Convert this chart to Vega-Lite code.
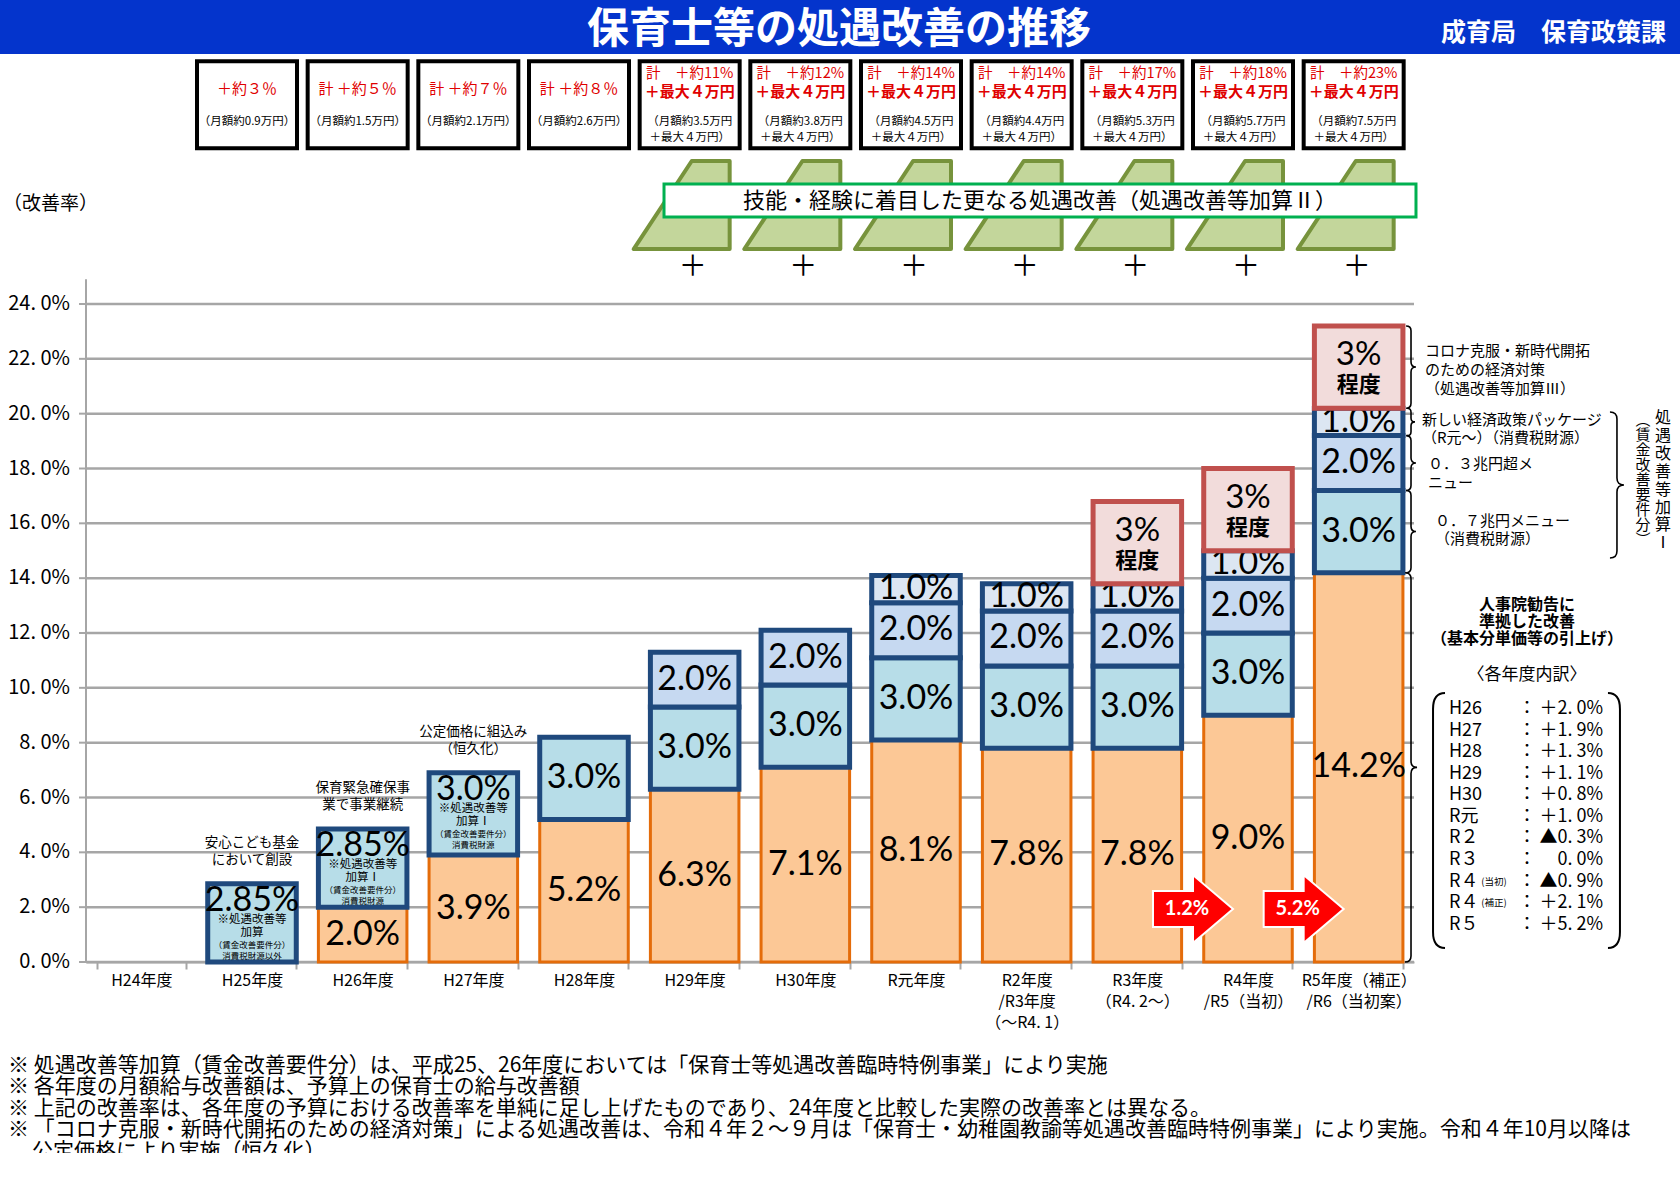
{
"$schema": "https://vega.github.io/schema/vega-lite/v6.json",
"width": 1680,
"height": 1180,
"autosize": {"type": "none"},
"padding": 0,
"background": "#ffffff",
"config": {"view": {"stroke": null}, "font": "Noto Sans CJK JP"},
"datasets": {
 "grid": [{"g":0},{"g":2},{"g":4},{"g":6},{"g":8},{"g":10},{"g":12},{"g":14},{"g":16},{"g":18},{"g":20},{"g":22},{"g":24}],
 "bars": [
  {"year":"H25年度","tier":2,"value":2.85,"label":"2.85%","above":"安心こども基金\nにおいて創設","in1":"※処遇改善等\n加算","in2":"（賃金改善要件分）\n消費税財源以外"},
  {"year":"H26年度","tier":1,"value":2.0,"label":"2.0%"},
  {"year":"H26年度","tier":2,"value":2.85,"label":"2.85%","above":"保育緊急確保事\n業で事業継続","in1":"※処遇改善等\n加算Ⅰ","in2":"（賃金改善要件分）\n消費税財源"},
  {"year":"H27年度","tier":1,"value":3.9,"label":"3.9%"},
  {"year":"H27年度","tier":2,"value":3.0,"label":"3.0%","above":"公定価格に組込み\n（恒久化）","in1":"※処遇改善等\n加算Ⅰ","in2":"（賃金改善要件分）\n消費税財源"},
  {"year":"H28年度","tier":1,"value":5.2,"label":"5.2%"},
  {"year":"H28年度","tier":2,"value":3.0,"label":"3.0%"},
  {"year":"H29年度","tier":1,"value":6.3,"label":"6.3%"},
  {"year":"H29年度","tier":2,"value":3.0,"label":"3.0%"},
  {"year":"H29年度","tier":3,"value":2.0,"label":"2.0%"},
  {"year":"H30年度","tier":1,"value":7.1,"label":"7.1%"},
  {"year":"H30年度","tier":2,"value":3.0,"label":"3.0%"},
  {"year":"H30年度","tier":3,"value":2.0,"label":"2.0%"},
  {"year":"R元年度","tier":1,"value":8.1,"label":"8.1%"},
  {"year":"R元年度","tier":2,"value":3.0,"label":"3.0%"},
  {"year":"R元年度","tier":3,"value":2.0,"label":"2.0%"},
  {"year":"R元年度","tier":4,"value":1.0,"label":"1.0%"},
  {"year":"R2年度\n/R3年度\n（～R4. 1）","tier":1,"value":7.8,"label":"7.8%"},
  {"year":"R2年度\n/R3年度\n（～R4. 1）","tier":2,"value":3.0,"label":"3.0%"},
  {"year":"R2年度\n/R3年度\n（～R4. 1）","tier":3,"value":2.0,"label":"2.0%"},
  {"year":"R2年度\n/R3年度\n（～R4. 1）","tier":4,"value":1.0,"label":"1.0%"},
  {"year":"R3年度\n（R4. 2～）","tier":1,"value":7.8,"label":"7.8%"},
  {"year":"R3年度\n（R4. 2～）","tier":2,"value":3.0,"label":"3.0%"},
  {"year":"R3年度\n（R4. 2～）","tier":3,"value":2.0,"label":"2.0%"},
  {"year":"R3年度\n（R4. 2～）","tier":4,"value":1.0,"label":"1.0%"},
  {"year":"R3年度\n（R4. 2～）","tier":5,"value":3.0,"label":"3%"},
  {"year":"R4年度\n/R5（当初）","tier":1,"value":9.0,"label":"9.0%"},
  {"year":"R4年度\n/R5（当初）","tier":2,"value":3.0,"label":"3.0%"},
  {"year":"R4年度\n/R5（当初）","tier":3,"value":2.0,"label":"2.0%"},
  {"year":"R4年度\n/R5（当初）","tier":4,"value":1.0,"label":"1.0%"},
  {"year":"R4年度\n/R5（当初）","tier":5,"value":3.0,"label":"3%"},
  {"year":"R5年度（補正）\n/R6（当初案）","tier":1,"value":14.2,"label":"14.2%"},
  {"year":"R5年度（補正）\n/R6（当初案）","tier":2,"value":3.0,"label":"3.0%"},
  {"year":"R5年度（補正）\n/R6（当初案）","tier":3,"value":2.0,"label":"2.0%"},
  {"year":"R5年度（補正）\n/R6（当初案）","tier":4,"value":1.0,"label":"1.0%"},
  {"year":"R5年度（補正）\n/R6（当初案）","tier":5,"value":3.0,"label":"3%"}
 ],
 "boxes": [
  {"year":"H25年度","rate":"＋約３％","monthly":"（月額約0.9万円）"},
  {"year":"H26年度","rate":"計 ＋約５％","monthly":"（月額約1.5万円）"},
  {"year":"H27年度","rate":"計 ＋約７％","monthly":"（月額約2.1万円）"},
  {"year":"H28年度","rate":"計 ＋約８％","monthly":"（月額約2.6万円）"},
  {"year":"H29年度","rate":"計　＋約11%","rate2":"＋最大４万円","monthly":"（月額約3.5万円","monthly2":"＋最大４万円）"},
  {"year":"H30年度","rate":"計　＋約12%","rate2":"＋最大４万円","monthly":"（月額約3.8万円","monthly2":"＋最大４万円）"},
  {"year":"R元年度","rate":"計　＋約14%","rate2":"＋最大４万円","monthly":"（月額約4.5万円","monthly2":"＋最大４万円）"},
  {"year":"R2年度\n/R3年度\n（～R4. 1）","rate":"計　＋約14%","rate2":"＋最大４万円","monthly":"（月額約4.4万円","monthly2":"＋最大４万円）"},
  {"year":"R3年度\n（R4. 2～）","rate":"計　＋約17%","rate2":"＋最大４万円","monthly":"（月額約5.3万円","monthly2":"＋最大４万円）"},
  {"year":"R4年度\n/R5（当初）","rate":"計　＋約18%","rate2":"＋最大４万円","monthly":"（月額約5.7万円","monthly2":"＋最大４万円）"},
  {"year":"R5年度（補正）\n/R6（当初案）","rate":"計　＋約23%","rate2":"＋最大４万円","monthly":"（月額約7.5万円","monthly2":"＋最大４万円）"}
 ],
 "kasan2": [
  {"year":"H29年度"},{"year":"H30年度"},{"year":"R元年度"},{"year":"R2年度\n/R3年度\n（～R4. 1）"},{"year":"R3年度\n（R4. 2～）"},{"year":"R4年度\n/R5（当初）"},{"year":"R5年度（補正）\n/R6（当初案）"}
 ],
 "jump": [
  {"year":"R4年度\n/R5（当初）","delta":"1.2%"},
  {"year":"R5年度（補正）\n/R6（当初案）","delta":"5.2%"}
 ]
},
"resolve": {"scale": {"x": "independent"}},
"layer": [
 {
  "data": {"values": [{}]},
  "layer": [
   {
    "data": {"name": "grid"},
    "transform": [{"calculate": "replace(format(datum.g, '.1f'), '.', '. ') + '%'", "as": "lab"}],
    "layer": [
     {"mark": {"type": "rule", "color": "#a6a6a6", "strokeWidth": 2.5},
      "encoding": {
       "x": {"datum": 0, "type": "quantitative", "scale": {"domain": [0, 12], "range": [86, 1414], "nice": false, "zero": false}, "axis": null},
       "x2": {"datum": 12},
       "y": {"field": "g", "type": "quantitative", "scale": {"domain": [0, 24], "range": [962, 304], "nice": false, "zero": false}, "axis": null}}},
     {"mark": {"type": "rule", "color": "#a6a6a6", "strokeWidth": 2},
      "encoding": {"x": {"datum": -0.063, "axis": null}, "x2": {"datum": 0}, "y": {"field": "g", "type": "quantitative", "axis": null}}},
     {"mark": {"type": "text", "align": "right", "dx": -16, "fontSize": 20, "color": "#000000"},
      "encoding": {"x": {"datum": 0, "axis": null}, "y": {"field": "g", "type": "quantitative", "axis": null}, "text": {"field": "lab"}}}
    ]
   },
   {"mark": {"type": "rule", "color": "#a6a6a6", "strokeWidth": 2}, "encoding": {"x": {"datum": 0, "axis": null}, "y": {"datum": 0, "axis": null}, "y2": {"datum": 24.9}}},
   {"mark": {"type": "rect", "fill": "#0434cc"}, "encoding": {"x": {"datum": -0.8, "axis": null}, "x2": {"datum": 14.42}, "y": {"datum": 35.1, "axis": null}, "y2": {"datum": 33.12}}},
   {"mark": {"type": "text", "color": "#ffffff", "fontSize": 42, "fontWeight": "bold"}, "encoding": {"x": {"datum": 6.804, "axis": null}, "y": {"datum": 33.99, "axis": null}, "text": {"value": "保育士等の処遇改善の推移"}}},
   {"mark": {"type": "text", "color": "#ffffff", "fontSize": 25, "fontWeight": "bold", "align": "right"}, "encoding": {"x": {"datum": 14.277, "axis": null}, "y": {"datum": 33.87, "axis": null}, "text": {"value": "成育局　保育政策課"}}},
   {"mark": {"type": "text", "fontSize": 19, "align": "left"}, "encoding": {"x": {"datum": -0.75, "axis": null}, "y": {"datum": 27.65, "axis": null}, "text": {"value": "（改善率）"}}}
  ]
 },
 {
  "encoding": {"x": {"field": "year", "type": "nominal", "sort": null,
    "scale": {"domain": ["H24年度","H25年度","H26年度","H27年度","H28年度","H29年度","H30年度","R元年度","R2年度\n/R3年度\n（～R4. 1）","R3年度\n（R4. 2～）","R4年度\n/R5（当初）","R5年度（補正）\n/R6（当初案）"], "range": [86, 1414], "paddingInner": 0.2, "paddingOuter": 0.1},
    "axis": {"orient": "bottom", "offset": -218, "tickBand": "extent", "domainColor": "#a6a6a6", "domainWidth": 2, "tickColor": "#a6a6a6", "tickWidth": 2, "tickSize": 7, "labelExpr": "datum.value ? split(datum.value, '\\n') : ''", "labelFontSize": 16, "labelLineHeight": 21, "labelPadding": 3, "labelAngle": 0, "labelOverlap": false, "labelColor": "#000000", "title": null}}},
  "layer": [
   {
    "data": {"name": "bars"},
    "transform": [
     {"stack": "value", "groupby": ["year"], "sort": [{"field": "tier", "order": "ascending"}], "as": ["y0", "y1"]},
     {"calculate": "(datum.y0 + datum.y1) / 2", "as": "mid"}
    ],
    "layer": [
     {"transform": [{"filter": "datum.tier < 5"}], "mark": {"type": "bar", "strokeJoin": "miter"},
      "encoding": {"y": {"field": "y0", "type": "quantitative", "axis": null}, "y2": {"field": "y1"},
       "fill": {"field": "tier", "type": "ordinal", "scale": {"domain": [1,2,3,4,5], "range": ["#fcc896","#b7dde8","#c6d9f1","#dce6f2","#f2dcdb"]}, "legend": null},
       "stroke": {"field": "tier", "type": "ordinal", "scale": {"domain": [1,2,3,4,5], "range": ["#e46c0a","#1f497d","#1f497d","#1f497d","#c0504d"]}, "legend": null},
       "strokeWidth": {"condition": {"test": "datum.tier == 1", "value": 3}, "value": 5}}},
     {"transform": [{"filter": "datum.tier < 5 && !isValid(datum.in1)"}], "mark": {"type": "text", "font": "Lato", "fontSize": 34, "color": "#000000"},
      "encoding": {"y": {"field": "mid", "type": "quantitative", "axis": null}, "text": {"field": "label"}}},
     {"transform": [{"filter": "isValid(datum.in1)"}], "mark": {"type": "text", "font": "Lato", "fontSize": 34, "dy": 17, "color": "#000000"},
      "encoding": {"y": {"field": "y1", "type": "quantitative", "axis": null}, "text": {"field": "label"}}},
     {"transform": [{"filter": "isValid(datum.in1)"}], "mark": {"type": "text", "fontSize": 11.5, "lineBreak": "\n", "lineHeight": 13, "dy": 36, "color": "#000000"},
      "encoding": {"y": {"field": "y1", "type": "quantitative", "axis": null}, "text": {"field": "in1"}}},
     {"transform": [{"filter": "isValid(datum.in2)"}], "mark": {"type": "text", "fontSize": 8.5, "lineBreak": "\n", "lineHeight": 11, "dy": 61, "color": "#000000"},
      "encoding": {"y": {"field": "y1", "type": "quantitative", "axis": null}, "text": {"field": "in2"}}},
     {"transform": [{"filter": "isValid(datum.above)"}], "mark": {"type": "text", "fontSize": 13.5, "lineBreak": "\n", "lineHeight": 17, "dy": -41, "color": "#000000"},
      "encoding": {"y": {"field": "y1", "type": "quantitative", "axis": null}, "text": {"field": "above"}}},
     {"transform": [{"filter": "datum.tier == 5"}], "mark": {"type": "bar", "strokeJoin": "miter", "strokeWidth": 5},
      "encoding": {"y": {"field": "y0", "type": "quantitative", "axis": null}, "y2": {"field": "y1"},
       "fill": {"field": "tier", "type": "ordinal", "legend": null},
       "stroke": {"field": "tier", "type": "ordinal", "legend": null}}},
     {"transform": [{"filter": "datum.tier == 5"}], "mark": {"type": "text", "font": "Lato", "fontSize": 33, "dy": -12, "color": "#000000"},
      "encoding": {"y": {"field": "mid", "type": "quantitative", "axis": null}, "text": {"field": "label"}}},
     {"transform": [{"filter": "datum.tier == 5"}], "mark": {"type": "text", "fontSize": 22, "fontWeight": "bold", "dy": 18, "color": "#000000"},
      "encoding": {"y": {"field": "mid", "type": "quantitative", "axis": null}, "text": {"value": "程度"}}}
    ]
   },
   {
    "data": {"name": "boxes"},
    "layer": [
     {"mark": {"type": "point", "shape": "M -1 -0.87 L 1 -0.87 L 1 0.87 L -1 0.87 Z", "size": 10000, "filled": true, "fill": "#ffffff", "stroke": "#000000", "strokeWidth": 4, "opacity": 1, "xOffset": -5}, "encoding": {"y": {"datum": 31.27, "axis": null}}},
     {"transform": [{"filter": "!isValid(datum.rate2)"}], "mark": {"type": "text", "color": "#e00000", "fontSize": 15, "xOffset": -5}, "encoding": {"y": {"datum": 31.84, "axis": null}, "text": {"field": "rate"}}},
     {"transform": [{"filter": "isValid(datum.rate2)"}], "mark": {"type": "text", "color": "#e00000", "fontSize": 14.5, "xOffset": -5}, "encoding": {"y": {"datum": 32.39, "axis": null}, "text": {"field": "rate"}}},
     {"transform": [{"filter": "isValid(datum.rate2)"}], "mark": {"type": "text", "color": "#e00000", "fontSize": 15, "fontWeight": "bold", "xOffset": -5}, "encoding": {"y": {"datum": 31.73, "axis": null}, "text": {"field": "rate2"}}},
     {"mark": {"type": "text", "color": "#000000", "fontSize": 11.5, "xOffset": -5}, "encoding": {"y": {"datum": 30.65, "axis": null}, "text": {"field": "monthly"}}},
     {"transform": [{"filter": "isValid(datum.monthly2)"}], "mark": {"type": "text", "color": "#000000", "fontSize": 11.5, "xOffset": -5}, "encoding": {"y": {"datum": 30.05, "axis": null}, "text": {"field": "monthly2"}}}
    ]
   },
   {
    "data": {"name": "kasan2"},
    "layer": [
     {"mark": {"type": "point", "shape": "M -1 0.917 L 1 0.917 L 1 -0.917 L 0.21 -0.917 Z", "size": 9216, "filled": true, "fill": "#c3d69b", "stroke": "#77933c", "strokeWidth": 4, "strokeJoin": "round", "opacity": 1, "xOffset": -13}, "encoding": {"y": {"datum": 27.61, "axis": null}}},
     {"mark": {"type": "text", "fontSize": 28, "xOffset": -2, "color": "#000000"}, "encoding": {"y": {"datum": 25.31, "axis": null}, "text": {"value": "＋"}}}
    ]
   },
   {
    "data": {"name": "jump"},
    "layer": [
     {"mark": {"type": "point", "shape": "M -1 -0.45 L 0 -0.45 L 0 -0.85 L 1 0 L 0 0.85 L 0 0.45 L -1 0.45 Z", "size": 6400, "filled": true, "fill": "#ff0000", "stroke": "#ffffff", "strokeWidth": 2, "opacity": 1, "xOffset": -55}, "encoding": {"y": {"datum": 1.93, "axis": null}}},
     {"mark": {"type": "text", "font": "Lato", "fontSize": 20, "fontWeight": "bold", "color": "#ffffff", "xOffset": -61}, "encoding": {"y": {"datum": 1.93, "axis": null}, "text": {"field": "delta"}}}
    ]
   }
  ]
 },
 {
  "data": {"values": [{}]},
  "layer": [
   {"mark": {"type": "rect", "fill": "#ffffff", "stroke": "#00b050", "strokeWidth": 3}, "encoding": {"x": {"datum": 5.223, "type": "quantitative", "scale": {"domain": [0, 12], "range": [86, 1414], "nice": false, "zero": false}, "axis": null}, "x2": {"datum": 12.018}, "y": {"datum": 27.173, "axis": null}, "y2": {"datum": 28.377}}},
   {"mark": {"type": "text", "fontSize": 22, "color": "#000000"}, "encoding": {"x": {"datum": 8.62, "axis": null}, "y": {"datum": 27.757, "axis": null}, "text": {"value": "技能・経験に着目した更なる処遇改善（処遇改善等加算Ⅱ）"}}},
   {"mark": {"type": "point", "shape": "M -0.12 -1 Q 0 -1 0 -0.88 L 0 -0.12 Q 0 0 0.12 0 Q 0 0 0 0.12 L 0 0.88 Q 0 1 -0.12 1", "size": 6765, "filled": false, "stroke": "#000000", "strokeWidth": 1.6, "opacity": 1}, "encoding": {"x": {"datum": 11.973, "axis": null}, "y": {"datum": 21.7, "axis": null}}},
   {"mark": {"type": "point", "shape": "M -0.29 -1 Q 0 -1 0 -0.71 L 0 -0.29 Q 0 0 0.29 0 Q 0 0 0 0.29 L 0 0.71 Q 0 1 -0.29 1", "size": 752, "filled": false, "stroke": "#000000", "strokeWidth": 1.6, "opacity": 1}, "encoding": {"x": {"datum": 11.973, "axis": null}, "y": {"datum": 19.7, "axis": null}}},
   {"mark": {"type": "point", "shape": "M -0.18 -1 Q 0 -1 0 -0.82 L 0 -0.18 Q 0 0 0.18 0 Q 0 0 0 0.18 L 0 0.82 Q 0 1 -0.18 1", "size": 3007, "filled": false, "stroke": "#000000", "strokeWidth": 1.6, "opacity": 1}, "encoding": {"x": {"datum": 11.973, "axis": null}, "y": {"datum": 18.2, "axis": null}}},
   {"mark": {"type": "point", "shape": "M -0.12 -1 Q 0 -1 0 -0.88 L 0 -0.12 Q 0 0 0.12 0 Q 0 0 0 0.12 L 0 0.88 Q 0 1 -0.12 1", "size": 6765, "filled": false, "stroke": "#000000", "strokeWidth": 1.6, "opacity": 1}, "encoding": {"x": {"datum": 11.973, "axis": null}, "y": {"datum": 15.7, "axis": null}}},
   {"mark": {"type": "point", "shape": "M -0.031 -1 Q 0 -1 0 -0.969 L 0 -0.031 Q 0 0 0.031 0 Q 0 0 0 0.031 L 0 0.969 Q 0 1 -0.031 1", "size": 151577, "filled": false, "stroke": "#000000", "strokeWidth": 1.6, "opacity": 1}, "encoding": {"x": {"datum": 11.973, "axis": null}, "y": {"datum": 7.1, "axis": null}}},
   {"mark": {"type": "point", "shape": "M -0.096 -1 Q 0 -1 0 -0.904 L 0 -0.096 Q 0 0 0.096 0 Q 0 0 0 0.096 L 0 0.904 Q 0 1 -0.096 1", "size": 21316, "filled": false, "stroke": "#000000", "strokeWidth": 1.6, "opacity": 1}, "encoding": {"x": {"datum": 13.834, "axis": null}, "y": {"datum": 17.4, "axis": null}}},
   {"mark": {"type": "text", "fontSize": 15, "align": "left", "lineHeight": 19, "color": "#000000"}, "encoding": {"x": {"datum": 12.099, "axis": null}, "y": {"datum": 22.29, "axis": null}, "text": {"value": ["コロナ克服・新時代開拓", "のための経済対策", "（処遇改善等加算Ⅲ）"]}}},
   {"mark": {"type": "text", "fontSize": 15, "align": "left", "lineHeight": 18, "color": "#000000"}, "encoding": {"x": {"datum": 12.072, "axis": null}, "y": {"datum": 19.77, "axis": null}, "text": {"value": ["新しい経済政策パッケージ", "（R元～）（消費税財源）"]}}},
   {"mark": {"type": "text", "fontSize": 15, "align": "left", "lineHeight": 19, "color": "#000000"}, "encoding": {"x": {"datum": 12.126, "axis": null}, "y": {"datum": 18.16, "axis": null}, "text": {"value": ["０．３兆円超メ", "ニュー"]}}},
   {"mark": {"type": "text", "fontSize": 15, "align": "left", "lineHeight": 18, "color": "#000000"}, "encoding": {"x": {"datum": 12.19, "axis": null}, "y": {"datum": 16.09, "axis": null}, "text": {"value": ["０．７兆円メニュー", "（消費税財源）"]}}},
   {"mark": {"type": "text", "fontSize": 16, "lineHeight": 17.9, "color": "#000000"}, "encoding": {"x": {"datum": 14.25, "axis": null}, "y": {"datum": 19.84, "axis": null}, "text": {"value": ["処","遇","改","善","等","加","算","Ⅰ"]}}},
   {"mark": {"type": "text", "fontSize": 15, "lineHeight": 15, "color": "#000000"}, "encoding": {"x": {"datum": 14.069, "axis": null}, "y": {"datum": 19.77, "axis": null}, "text": {"value": ["︵","賃","金","改","善","要","件","分","︶"]}}},
   {"mark": {"type": "text", "fontSize": 16, "fontWeight": "bold", "lineHeight": 17, "color": "#000000"}, "encoding": {"x": {"datum": 13.021, "axis": null}, "y": {"datum": 13.02, "axis": null}, "text": {"value": ["人事院勧告に", "準拠した改善", "（基本分単価等の引上げ）"]}}},
   {"mark": {"type": "text", "fontSize": 17, "color": "#000000"}, "encoding": {"x": {"datum": 13.021, "axis": null}, "y": {"datum": 10.47, "axis": null}, "text": {"value": "〈各年度内訳〉"}}},
   {"mark": {"type": "point", "shape": "M 0.094 -1 Q 0 -1 0 -0.875 L 0 0.875 Q 0 1 0.094 1", "size": 65025, "filled": false, "stroke": "#000000", "strokeWidth": 2, "opacity": 1}, "encoding": {"x": {"datum": 12.172, "axis": null}, "y": {"datum": 5.161, "axis": null}}},
   {"mark": {"type": "point", "shape": "M -0.094 -1 Q 0 -1 0 -0.875 L 0 0.875 Q 0 1 -0.094 1", "size": 65025, "filled": false, "stroke": "#000000", "strokeWidth": 2, "opacity": 1}, "encoding": {"x": {"datum": 13.861, "axis": null}, "y": {"datum": 5.161, "axis": null}}},
   {"mark": {"type": "text", "fontSize": 18, "align": "left", "lineHeight": 21.57, "color": "#000000"}, "encoding": {"x": {"datum": 12.316, "axis": null}, "y": {"datum": 9.228, "axis": null}, "text": {"value": ["H26","H27","H28","H29","H30","R元","R２","R３","R４","R４","R５"]}}},
   {"mark": {"type": "text", "fontSize": 18, "lineHeight": 21.57, "color": "#000000"}, "encoding": {"x": {"datum": 13.021, "axis": null}, "y": {"datum": 9.228, "axis": null}, "text": {"value": ["：","：","：","：","：","：","：","：","：","：","："]}}},
   {"mark": {"type": "text", "fontSize": 18, "align": "right", "lineHeight": 21.57, "color": "#000000"}, "encoding": {"x": {"datum": 13.708, "axis": null}, "y": {"datum": 9.228, "axis": null}, "text": {"value": ["＋2. 0%","＋1. 9%","＋1. 3%","＋1. 1%","＋0. 8%","＋1. 0%","▲0. 3%","0. 0%","▲0. 9%","＋2. 1%","＋5. 2%"]}}},
   {"mark": {"type": "text", "fontSize": 9.5, "lineHeight": 21.57, "color": "#000000"}, "encoding": {"x": {"datum": 12.723, "axis": null}, "y": {"datum": 2.933, "axis": null}, "text": {"value": ["(当初)", "(補正)"]}}},
   {"mark": {"type": "text", "fontSize": 21, "align": "left", "baseline": "top", "lineHeight": 21.5, "color": "#000000"}, "encoding": {"x": {"datum": -0.705, "axis": null}, "y": {"datum": -3.392, "axis": null}, "text": {"value": ["※ 処遇改善等加算（賃金改善要件分）は、平成25、26年度においては「保育士等処遇改善臨時特例事業」により実施", "※ 各年度の月額給与改善額は、予算上の保育士の給与改善額", "※ 上記の改善率は、各年度の予算における改善率を単純に足し上げたものであり、24年度と比較した実際の改善率とは異なる。", "※ 「コロナ克服・新時代開拓のための経済対策」による処遇改善は、令和４年２～９月は「保育士・幼稚園教諭等処遇改善臨時特例事業」により実施。令和４年10月以降は"]}}},
   {"mark": {"type": "text", "fontSize": 21, "align": "left", "baseline": "top", "color": "#000000"}, "encoding": {"x": {"datum": -0.488, "axis": null}, "y": {"datum": -6.529, "axis": null}, "text": {"value": "公定価格により実施（恒久化）"}}},
   {"mark": {"type": "rect", "fill": "#ffffff"}, "encoding": {"x": {"datum": -0.8, "axis": null}, "x2": {"datum": 14.42}, "y": {"datum": -6.97, "axis": null}, "y2": {"datum": -8.2}}}
  ]
 }
]
}
